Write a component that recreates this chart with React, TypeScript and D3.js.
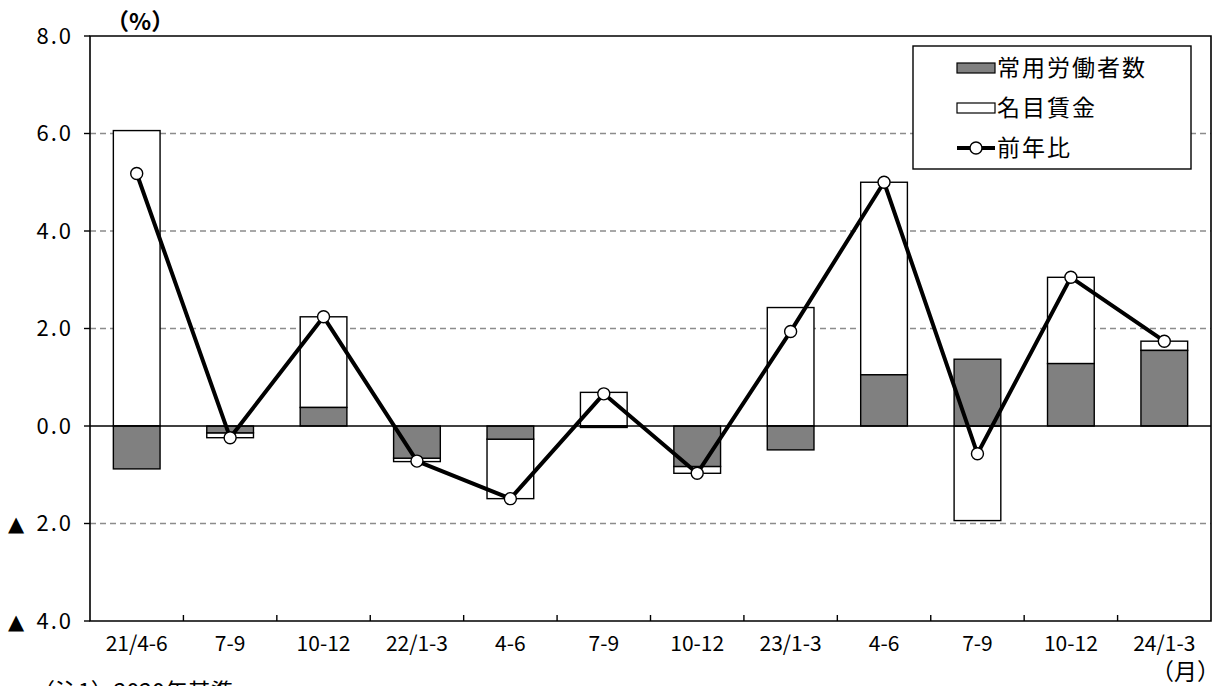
import React, { useEffect, useRef } from "react";
import * as d3 from "d3";

// 前年比の要因分解（四半期）
const categories = ["21/4-6", "7-9", "10-12", "22/1-3", "4-6", "7-9", "10-12", "23/1-3", "4-6", "7-9", "10-12", "24/1-3"];
const employees = [-0.88, -0.14, 0.38, -0.66, -0.27, -0.03, -0.83, -0.49, 1.05, 1.37, 1.28, 1.55];
const wages = [6.06, -0.1, 1.86, -0.07, -1.22, 0.69, -0.14, 2.43, 3.95, -1.94, 1.77, 0.19];
const yoy = [5.18, -0.24, 2.24, -0.72, -1.49, 0.66, -0.97, 1.94, 5.0, -0.57, 3.05, 1.74];
const yTicks = [-4, -2, 0, 2, 4, 6, 8];
const seriesNames = ["常用労働者数", "名目賃金", "前年比"];

const jpFont = "'Noto Sans CJK JP', sans-serif";

const App: React.FC = () => {
  const svgRef = useRef<SVGSVGElement | null>(null);

  useEffect(() => {
    const width = 1226;
    const height = 686;
    const marginLeft = 90;
    const marginRight = 15;
    const marginTop = 36;
    const marginBottom = 65;

    const svg = d3.select(svgRef.current);
    svg.selectAll("*").remove();
    svg.attr("width", width).attr("height", height).attr("viewBox", [0, 0, width, height]);

    const x = d3
      .scaleBand()
      .domain(categories.map((_, i) => i.toString()))
      .range([marginLeft, width - marginRight])
      .paddingInner(0.5)
      .paddingOuter(0.25);

    const y = d3
      .scaleLinear()
      .domain([-4, 8])
      .range([height - marginBottom, marginTop]);

    const x0 = marginLeft;
    const x1 = width - marginRight;
    const step = (x1 - x0) / categories.length;

    // grid
    svg
      .append("g")
      .selectAll("line")
      .data(yTicks.filter((d) => d !== 0 && d !== 8 && d !== -4))
      .join("line")
      .attr("x1", x0)
      .attr("x2", x1)
      .attr("y1", (d) => y(d))
      .attr("y2", (d) => y(d))
      .attr("stroke", "#8c8c8c")
      .attr("stroke-width", 1.3)
      .attr("stroke-dasharray", "6,4");

    // stacked bars
    const rows = categories.map((_, i) => ({ i, emp: employees[i], wage: wages[i] }));
    const stack = d3
      .stack<{ i: number; emp: number; wage: number }>()
      .keys(["emp", "wage"])
      .offset(d3.stackOffsetDiverging);
    const layers = stack(rows);
    const fills = ["#808080", "#ffffff"];

    // white (wage) layer first, grey on top
    [1, 0].forEach((k) => {
      svg
        .append("g")
        .selectAll("rect")
        .data(layers[k])
        .join("rect")
        .attr("x", (d) => x(d.data.i.toString()) as number)
        .attr("width", x.bandwidth())
        .attr("y", (d) => y(Math.max(d[0], d[1])))
        .attr("height", (d) => Math.abs(y(d[0]) - y(d[1])))
        .attr("fill", fills[k])
        .attr("stroke", "#000")
        .attr("stroke-width", 1.4);
    });

    // zero line
    svg
      .append("line")
      .attr("x1", x0)
      .attr("x2", x1)
      .attr("y1", y(0))
      .attr("y2", y(0))
      .attr("stroke", "#000")
      .attr("stroke-width", 1.6);

    // frame
    svg
      .append("path")
      .attr("d", `M${x0},${y(-4)}V${y(8)}H${x1}V${y(-4)}Z`)
      .attr("fill", "none")
      .attr("stroke", "#000")
      .attr("stroke-width", 1.6);

    // y ticks
    const gy = svg.append("g");
    gy.selectAll("line")
      .data(yTicks)
      .join("line")
      .attr("x1", x0 - 6)
      .attr("x2", x0)
      .attr("y1", (d) => y(d))
      .attr("y2", (d) => y(d))
      .attr("stroke", "#000")
      .attr("stroke-width", 1.4);
    gy.selectAll("text.num")
      .data(yTicks)
      .join("text")
      .attr("class", "num")
      .attr("x", 73)
      .attr("y", (d) => y(d))
      .attr("dy", "0.36em")
      .attr("text-anchor", "end")
      .style("font-family", jpFont)
      .style("font-size", "22px")
      .style("letter-spacing", "2px")
      .text((d) => Math.abs(d).toFixed(1));
    gy.selectAll("text.neg")
      .data(yTicks.filter((d) => d < 0))
      .join("text")
      .attr("class", "neg")
      .attr("x", 8)
      .attr("y", (d) => y(d))
      .attr("dy", "0.36em")
      .style("font-family", "'DejaVu Sans', sans-serif")
      .style("font-size", "21px")
      .text("▲");

    // x ticks (between categories)
    svg
      .append("g")
      .selectAll("line")
      .data(d3.range(1, categories.length))
      .join("line")
      .attr("x1", (d) => x0 + d * step)
      .attr("x2", (d) => x0 + d * step)
      .attr("y1", y(-4))
      .attr("y2", y(-4) - 6)
      .attr("stroke", "#000")
      .attr("stroke-width", 1.4);
    svg
      .append("g")
      .selectAll("text")
      .data(categories)
      .join("text")
      .attr("x", (_, i) => (x(i.toString()) as number) + x.bandwidth() / 2)
      .attr("y", y(-4) + 22)
      .attr("dy", "0.36em")
      .attr("text-anchor", "middle")
      .style("font-family", jpFont)
      .style("font-size", "21px")
      .text((d) => d);

    // line
    const line = d3
      .line<number>()
      .x((_, i) => (x(i.toString()) as number) + x.bandwidth() / 2)
      .y((d) => y(d));
    svg
      .append("path")
      .datum(yoy)
      .attr("d", line)
      .attr("fill", "none")
      .attr("stroke", "#000")
      .attr("stroke-width", 4)
      .attr("stroke-linejoin", "round");
    svg
      .append("g")
      .selectAll("circle")
      .data(yoy)
      .join("circle")
      .attr("cx", (_, i) => (x(i.toString()) as number) + x.bandwidth() / 2)
      .attr("cy", (d) => y(d))
      .attr("r", 6)
      .attr("fill", "#fff")
      .attr("stroke", "#000")
      .attr("stroke-width", 1.4);

    // legend
    const lg = svg.append("g");
    lg.append("rect")
      .attr("x", 913)
      .attr("y", 46)
      .attr("width", 278)
      .attr("height", 123)
      .attr("fill", "#fff")
      .attr("stroke", "#000")
      .attr("stroke-width", 1.4);
    const rowY = [68, 108, 148];
    lg.append("rect")
      .attr("x", 957)
      .attr("y", rowY[0] - 5)
      .attr("width", 38)
      .attr("height", 10)
      .attr("fill", fills[0])
      .attr("stroke", "#000")
      .attr("stroke-width", 1.2);
    lg.append("rect")
      .attr("x", 957)
      .attr("y", rowY[1] - 5)
      .attr("width", 38)
      .attr("height", 10)
      .attr("fill", fills[1])
      .attr("stroke", "#000")
      .attr("stroke-width", 1.2);
    lg.append("line")
      .attr("x1", 957)
      .attr("x2", 995)
      .attr("y1", rowY[2])
      .attr("y2", rowY[2])
      .attr("stroke", "#000")
      .attr("stroke-width", 4);
    lg.append("circle")
      .attr("cx", 976)
      .attr("cy", rowY[2])
      .attr("r", 6)
      .attr("fill", "#fff")
      .attr("stroke", "#000")
      .attr("stroke-width", 1.4);
    lg.selectAll("text")
      .data(seriesNames)
      .join("text")
      .attr("x", 997)
      .attr("y", (_, i) => rowY[i])
      .attr("dy", "0.36em")
      .style("font-family", jpFont)
      .style("font-size", "23px")
      .style("letter-spacing", "2px")
      .text((d) => d);

    // unit labels
    svg
      .append("text")
      .attr("x", 106)
      .attr("y", 22)
      .attr("dy", "0.36em")
      .style("font-family", jpFont)
      .style("font-size", "23px")
      .style("font-weight", "bold")
      .text("（%）");
    svg
      .append("text")
      .attr("x", 1220)
      .attr("y", 672)
      .attr("dy", "0.36em")
      .attr("text-anchor", "end")
      .style("font-family", jpFont)
      .style("font-size", "23px")
      .text("（月）");

    // note (cut off at the bottom edge, as in the source)
    svg
      .append("text")
      .attr("x", 32)
      .attr("y", 700)
      .style("font-family", jpFont)
      .style("font-size", "23px")
      .text("（注1）2020年基準");
  }, []);

  return (
    <div style={{ position: "absolute", left: 0, top: 0, width: 1226, height: 686, overflow: "hidden", background: "#fff" }}>
      <svg ref={svgRef} style={{ display: "block" }}></svg>
    </div>
  );
};

export default App;
